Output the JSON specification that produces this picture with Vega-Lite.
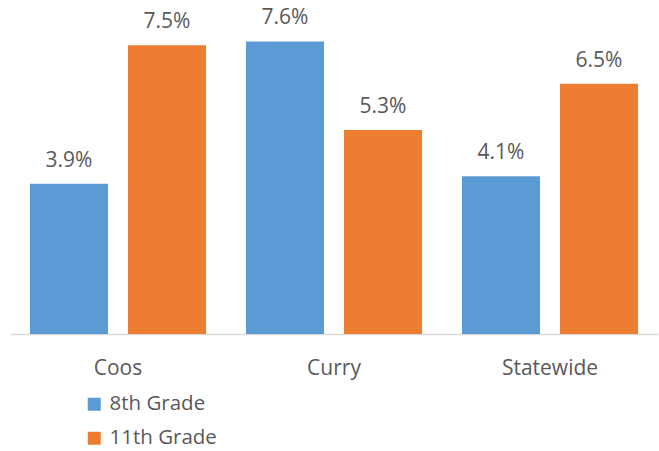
{
  "$schema": "https://vega.github.io/schema/vega-lite/v6.json",
  "width": 648,
  "height": 308,
  "autosize": {"type": "none"},
  "padding": {"left": 10, "top": 26, "right": 1, "bottom": 117},
  "config": {"view": {"stroke": null}, "font": "Open Sans"},
  "data": {"values": [
    {"region": "Coos", "grade": "8th Grade", "value": 0.039},
    {"region": "Coos", "grade": "11th Grade", "value": 0.075},
    {"region": "Curry", "grade": "8th Grade", "value": 0.076},
    {"region": "Curry", "grade": "11th Grade", "value": 0.053},
    {"region": "Statewide", "grade": "8th Grade", "value": 0.041},
    {"region": "Statewide", "grade": "11th Grade", "value": 0.065}
  ]},
  "encoding": {
    "x": {"field": "region", "type": "nominal", "sort": ["Coos", "Curry", "Statewide"],
      "scale": {"paddingInner": 0, "paddingOuter": 0},
      "axis": {"title": null, "labelAngle": 0, "ticks": false, "tickSize": 0, "labelPadding": 40, "labelBaseline": "alphabetic",
        "labelFontSize": 21, "labelColor": "#595959", "domainColor": "#D9D9D9", "domainWidth": 1.5, "grid": false}},
    "xOffset": {"field": "grade", "type": "nominal", "sort": ["8th Grade", "11th Grade"],
      "scale": {"paddingInner": 0.204, "paddingOuter": 0.204}},
    "y": {"field": "value", "type": "quantitative", "scale": {"domain": [0, 0.08]}, "axis": null}
  },
  "layer": [
    {"mark": {"type": "bar"},
     "encoding": {"color": {"field": "grade", "type": "nominal", "sort": ["8th Grade", "11th Grade"],
       "scale": {"range": ["#5B9BD5", "#ED7D31"]},
       "legend": {"title": null, "orient": "none", "legendX": 74, "legendY": 368, "direction": "vertical",
         "symbolType": "square", "symbolSize": 169, "symbolStrokeWidth": 0, "symbolOpacity": 1,
         "labelFontSize": 20.5, "labelColor": "#595959", "rowPadding": 13, "labelOffset": 5}}}},
    {"mark": {"type": "text", "baseline": "alphabetic", "dy": -17, "fontSize": 21, "color": "#595959"},
     "encoding": {"text": {"field": "value", "type": "quantitative", "format": ".1%"}}}
  ]
}
